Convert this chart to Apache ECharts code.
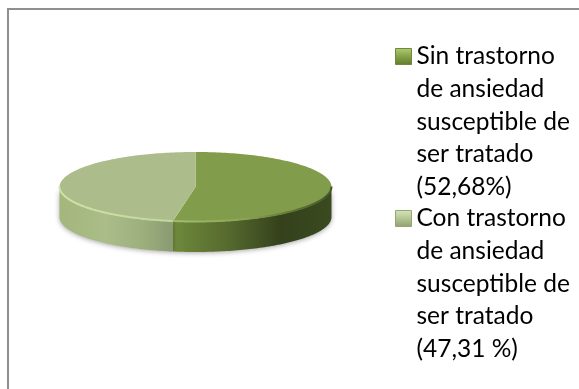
<!DOCTYPE html>
<html><head><meta charset="utf-8">
<style>html,body{margin:0;padding:0;background:#fff}#c{width:579px;height:389px}</style>
<script src="https://cdn.jsdelivr.net/npm/echarts@6/dist/echarts.min.js"></script>
</head><body><div id="c"></div>
<script>
const sliceNames = ["Sin trastorno\nde ansiedad\nsusceptible de\nser tratado\n(52,68%)",
                    "Con trastorno\nde ansiedad\nsusceptible de\nser tratado\n(47,31 %)"];
const sliceValues = [52.68, 47.31];

const CX = 195.5, CY = 187, RX = 136, RY = 35, DEPTH = 30;
const total = sliceValues.reduce((a, b) => a + b, 0);
const G = echarts.graphic.LinearGradient;
const stops = (arr) => arr.map(([offset, color]) => ({offset, color}));
const looks = [
  { top: '#819c4a',
    wall: [[0, '#6f8a3c'], [0.35, '#566a2e'], [0.68, '#34411c'], [1, '#3b4a20']],
    rim: [[0, '#a5bd70'], [0.45, '#8ba355'], [0.8, '#5a6e30'], [1, '#46572a']] },
  { top: '#acbd8b',
    wall: [[0, '#a3b67c'], [0.4, '#abbd88'], [0.75, '#9cae7c'], [1, '#8a9a72']],
    rim: [[0, '#cfe3a8'], [1, '#c0d69a']] }
];
const pt = (a, dy) => [CX + RX * Math.sin(a), CY - RY * Math.cos(a) + (dy || 0)];
function arc(a0, a1, dy) {
  const n = Math.max(2, Math.ceil(Math.abs(a1 - a0) / 0.02)), out = [];
  for (let i = 0; i <= n; i++) out.push(pt(a0 + (a1 - a0) * i / n, dy));
  return out;
}
function renderSlice(params, api) {
  const i = params.seriesIndex;
  const before = sliceValues.slice(0, i).reduce((a, b) => a + b, 0);
  const a0 = before / total * 2 * Math.PI;
  const a1 = (before + api.value(0)) / total * 2 * Math.PI;
  const w0 = Math.max(a0, Math.PI / 2), w1 = Math.min(a1, 3 * Math.PI / 2);
  const look = looks[i];
  const wallTop = arc(w0, w1, 0), wallBottom = arc(w1, w0, DEPTH);
  const xs = wallTop.map(p => p[0]);
  const minX = Math.min(...xs), maxX = Math.max(...xs);
  const grad = (s) => new G(minX, 0, maxX, 0, stops(s), true);
  const sector = [[CX, CY]].concat(arc(a0, a1, 0));
  return { type: 'group', children: [
    { type: 'polygon', shape: { points: wallTop.concat(wallBottom) },
      style: { fill: grad(look.wall), shadowBlur: 5, shadowColor: 'rgba(0,0,0,0.35)', shadowOffsetY: 1 } },
    { type: 'polygon', shape: { points: sector }, style: { fill: look.top } },
    { type: 'polyline', shape: { points: arc(w0, w1, -0.5) },
      style: { fill: null, stroke: grad(look.rim), lineWidth: 2 } }
  ]};
}
const swatch = (c0, c1, c2) => new G(0, 0, 0, 1, stops([[0, c0], [0.45, c1], [1, c2]]));
const lineH = 32.6;
const blankLines = 4;
const firstLineCenters = [56.5, 218.5];
const legendBase = {
  orient: 'vertical', left: 395, height: 900, padding: 0, selectedMode: false,
  itemWidth: 16, itemHeight: 16, itemGap: 0, icon: 'rect',
  formatter: (n) => '\n'.repeat(blankLines) + n,
  textStyle: { fontFamily: 'Lato', fontSize: 24.5, color: '#000', lineHeight: lineH }
};
const legendTop = (i) => firstLineCenters[i] - (blankLines + 0.5) * lineH;
const chart = echarts.init(document.getElementById('c'), null, { renderer: 'canvas' });
chart.setOption({
  animation: false,
  backgroundColor: '#fff',
  graphic: [{ type: 'polyline', silent: true,
    shape: { points: [[8, 389], [8, 9], [579, 9]] },
    style: { fill: null, stroke: '#8f8f8f', lineWidth: 2 } }],
  legend: [
    Object.assign({}, legendBase, { top: legendTop(0), data: [{ name: sliceNames[0],
      itemStyle: { color: swatch('#b3cc72', '#8aa64c', '#5f7a2c'), borderColor: '#6f8a3c', borderWidth: 1 } }] }),
    Object.assign({}, legendBase, { top: legendTop(1), data: [{ name: sliceNames[1],
      itemStyle: { color: swatch('#d6e4b4', '#b8c998', '#8f9f6e'), borderColor: '#94a578', borderWidth: 1 } }] })
  ],
  series: sliceNames.map((name, i) => ({
    type: 'custom', name, coordinateSystem: 'none', silent: true,
    itemStyle: { color: looks[i].top },
    renderItem: renderSlice, data: [[sliceValues[i]]]
  }))
});
</script></body></html>
